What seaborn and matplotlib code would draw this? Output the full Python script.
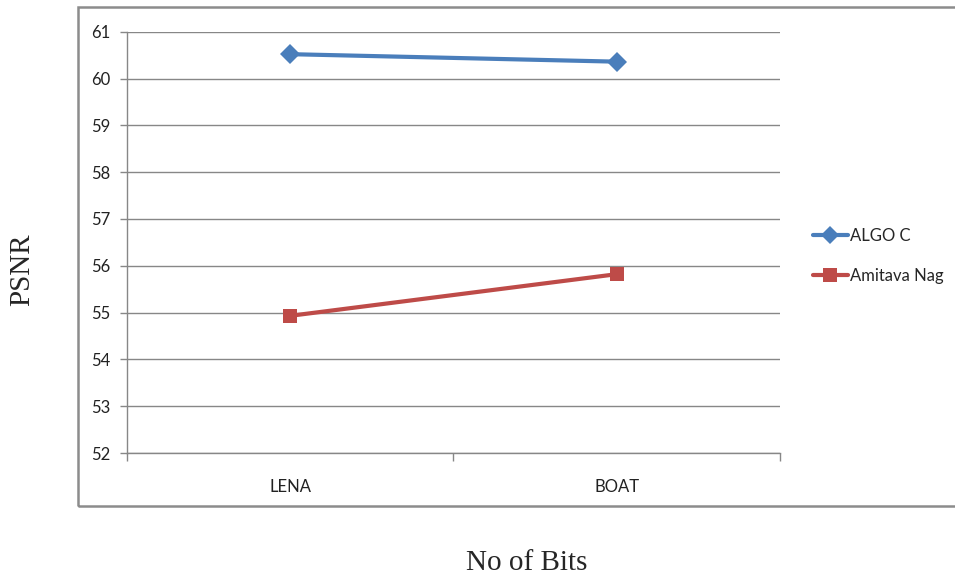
import matplotlib
matplotlib.use("Agg")
import matplotlib.pyplot as plt
import matplotlib.patches as mpatches
from matplotlib.lines import Line2D
import seaborn as sns
import pandas as pd

images = ["LENA", "BOAT"]
algo_c = [60.52, 60.36]
amitava_nag = [54.93, 55.82]
series_names = ["ALGO C", "Amitava Nag"]
y_ticks = [52, 53, 54, 55, 56, 57, 58, 59, 60, 61]

colors = {"ALGO C": "#4A7EBB", "Amitava Nag": "#BE4B48"}
markers = {"ALGO C": "D", "Amitava Nag": "s"}

df = pd.DataFrame({
    "image": images * 2,
    "psnr": algo_c + amitava_nag,
    "method": [series_names[0]] * 2 + [series_names[1]] * 2,
})

sns.set_theme(style="white")
plt.rcParams["font.family"] = ["Lato", "DejaVu Sans"]

fig = plt.figure(figsize=(9.55, 5.76), dpi=100)
ax = fig.add_axes([126.7 / 955, 1 - 453 / 576, (780 - 126.7) / 955, (453 - 31.7) / 576])

sns.lineplot(data=df, x="image", y="psnr", hue="method", style="method",
             palette=colors, markers=markers, dashes=False, linewidth=3,
             markersize=10, markeredgewidth=0, legend=False, ax=ax, sort=False)

grid_c = "#878787"
ax.set_xlim(-0.5, 1.5)
ax.set_ylim(52, 61)
ax.set_yticks(y_ticks)
ax.set_yticklabels([str(v) for v in y_ticks], fontsize=12, color="#222222")
ax.set_xticks([0, 1])
ax.set_xticklabels(images, fontsize=12, color="#222222")
ax.set_xticks([-0.5, 0.5, 1.5], minor=True)
ax.yaxis.grid(True, color=grid_c, linewidth=1)
ax.xaxis.grid(False)
for s in ["top", "right"]:
    ax.spines[s].set_visible(False)
ax.spines["left"].set_color(grid_c)
ax.spines["bottom"].set_color(grid_c)
ax.spines["left"].set_linewidth(1)
ax.spines["bottom"].set_linewidth(1)
ax.tick_params(axis="y", which="major", left=True, length=5, color=grid_c, width=1, pad=7)
ax.tick_params(axis="x", which="major", bottom=False, pad=13)
ax.tick_params(axis="x", which="minor", bottom=True, length=6, color=grid_c, width=1)
ax.set_xlabel("")
ax.set_ylabel("")

# outer chart border
fig.patches.append(mpatches.Rectangle((78 / 955, 1 - 506 / 576), (958 - 78) / 955, (506 - 7) / 576,
                                      transform=fig.transFigure, fill=False,
                                      edgecolor="#8C8C8C", linewidth=1.8))

handles = [Line2D([], [], color=colors[n], marker=markers[n], linewidth=3,
                  markersize=9 if n == "ALGO C" else 10, markeredgewidth=0)
           for n in series_names]
fig.legend(handles, series_names, loc="center left", bbox_to_anchor=(806 / 955, 1 - 256 / 576),
           frameon=False, fontsize=12, handlelength=2.1, handletextpad=0.15,
           labelspacing=1.4, borderaxespad=0)

fig.text(22 / 955, 1 - 270 / 576, "PSNR", rotation=90, ha="center", va="center",
         fontsize=21, family=["Liberation Serif", "DejaVu Serif"])
fig.text(527 / 955, 1 - 563 / 576, "No of Bits", ha="center", va="center",
         fontsize=21, family=["Liberation Serif", "DejaVu Serif"])

fig.savefig("out.png", dpi=100)
